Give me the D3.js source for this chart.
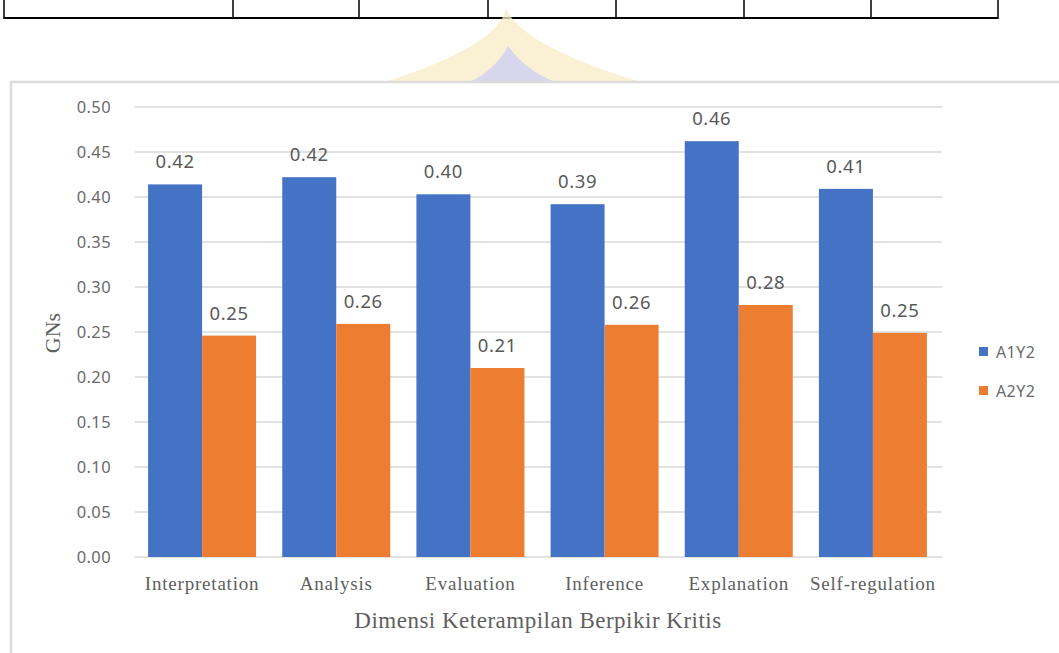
<!DOCTYPE html>
<html><head><meta charset="utf-8">
<script src="https://cdn.jsdelivr.net/npm/d3@7"></script>
<style>body{margin:0;background:#fff;}svg{display:block;}</style>
</head><body>
<svg id="c" width="1059" height="653"></svg>
<script>
const categories = ["Interpretation","Analysis","Evaluation","Inference","Explanation","Self-regulation"];
const seriesNames = ["A1Y2","A2Y2"];
const a1y2 = [0.414,0.422,0.403,0.392,0.462,0.409];
const a2y2 = [0.246,0.259,0.210,0.258,0.280,0.249];
const a1y2Labels = ["0.42","0.42","0.40","0.39","0.46","0.41"];
const a2y2Labels = ["0.25","0.26","0.21","0.26","0.28","0.25"];
const yTicks = [0,0.05,0.10,0.15,0.20,0.25,0.30,0.35,0.40,0.45,0.50];
const tableCols = [4,233,359,488,616,744,871,998];

const colors = ["#4472C4","#ED7D31"];
const svg = d3.select("#c");

// top table fragment
svg.append("line").attr("x1",tableCols[0]).attr("x2",tableCols[tableCols.length-1]).attr("y1",18).attr("y2",18).attr("stroke","#000").attr("stroke-width",2);
svg.selectAll(".tc").data(tableCols).join("line").attr("x1",d=>d).attr("x2",d=>d).attr("y1",0).attr("y2",19).attr("stroke","#000").attr("stroke-width",1.5);

// watermark
svg.append("path").attr("d","M506,8 Q500,45 385,82 L640,82 Q520,45 506,8 Z").attr("fill","#f8ecc6").attr("opacity",0.75);
svg.append("path").attr("d","M508,46 Q495,70 470,82 L555,82 Q525,70 508,46 Z").attr("fill","#d3d3f0").attr("opacity",0.9);

// chart frame
svg.append("rect").attr("x",11).attr("y",82).attr("width",1060).attr("height",600).attr("fill","#fff").attr("stroke","#dcdcdc").attr("stroke-width",2.5);

const x0 = d3.scaleBand().domain(categories).range([135,940]).paddingInner(0.195).paddingOuter(0.0975);
const x1 = d3.scaleBand().domain(seriesNames).range([0,x0.bandwidth()]);
const y = d3.scaleLinear().domain([0,0.5]).range([557,107]);

// gridlines
svg.append("g").selectAll("line").data(yTicks).join("line")
  .attr("x1",135).attr("x2",942).attr("y1",d=>y(d)).attr("y2",d=>y(d))
  .attr("stroke","#d9d9d9").attr("stroke-width",1.5);

// y axis labels
const yAxis = d3.axisLeft(y).tickValues(yTicks).tickFormat(d3.format(".2f")).tickSize(0).tickPadding(0);
const ya = svg.append("g").attr("transform","translate(111,0)").call(yAxis);
ya.select(".domain").remove();
ya.selectAll("text").attr("font-family","Noto Sans, sans-serif").attr("font-size",16.5).attr("letter-spacing",0.4).attr("fill","#6a6a6a");

// bars
const data = categories.map((c,i)=>({c, vals:[a1y2[i],a2y2[i]], labs:[a1y2Labels[i],a2y2Labels[i]]}));
const g = svg.append("g").selectAll("g").data(data).join("g").attr("transform",d=>`translate(${x0(d.c)},0)`);
g.selectAll("rect").data(d=>d.vals.map((v,j)=>({v,s:seriesNames[j],j}))).join("rect")
  .attr("x",d=>x1(d.s)).attr("width",x1.bandwidth()).attr("y",d=>y(d.v)).attr("height",d=>y(0)-y(d.v))
  .attr("fill",d=>colors[d.j]);
g.selectAll("text").data(d=>d.vals.map((v,j)=>({v,s:seriesNames[j],l:d.labs[j]}))).join("text")
  .attr("x",d=>x1(d.s)+x1.bandwidth()/2).attr("y",d=>y(d.v)-16).attr("text-anchor","middle")
  .attr("font-family","Noto Sans, sans-serif").attr("font-size",18.5).attr("letter-spacing",0.6).attr("fill","#595959").text(d=>d.l);

// x axis labels
const xAxis = d3.axisBottom(x0).tickSize(0).tickPadding(0);
const xa = svg.append("g").attr("transform","translate(0,576)").call(xAxis);
xa.select(".domain").remove();
xa.selectAll("text").attr("font-family","Liberation Serif, serif").attr("font-size",19).attr("letter-spacing",0.8).attr("fill","#606060");

// axis titles
svg.append("text").attr("x",538).attr("y",628).attr("text-anchor","middle")
  .attr("font-family","Liberation Serif, serif").attr("font-size",23).attr("letter-spacing",0.5).attr("fill","#606060")
  .text("Dimensi Keterampilan Berpikir Kritis");
svg.append("text").attr("transform","translate(60,333) rotate(-90)").attr("text-anchor","middle")
  .attr("font-family","Liberation Serif, serif").attr("font-size",22).attr("fill","#606060").text("GNs");

// legend
const lg = svg.append("g").selectAll("g").data(seriesNames).join("g")
  .attr("transform",(d,i)=>`translate(979,${352+i*39})`);
lg.append("rect").attr("x",0).attr("y",-5).attr("width",9).attr("height",9).attr("fill",(d,i)=>colors[i]);
lg.append("text").attr("x",17).attr("y",6).attr("font-family","Noto Sans, sans-serif").attr("font-size",16).attr("letter-spacing",0.4).attr("fill","#6a6a6a").text(d=>d);
</script>
</body></html>
